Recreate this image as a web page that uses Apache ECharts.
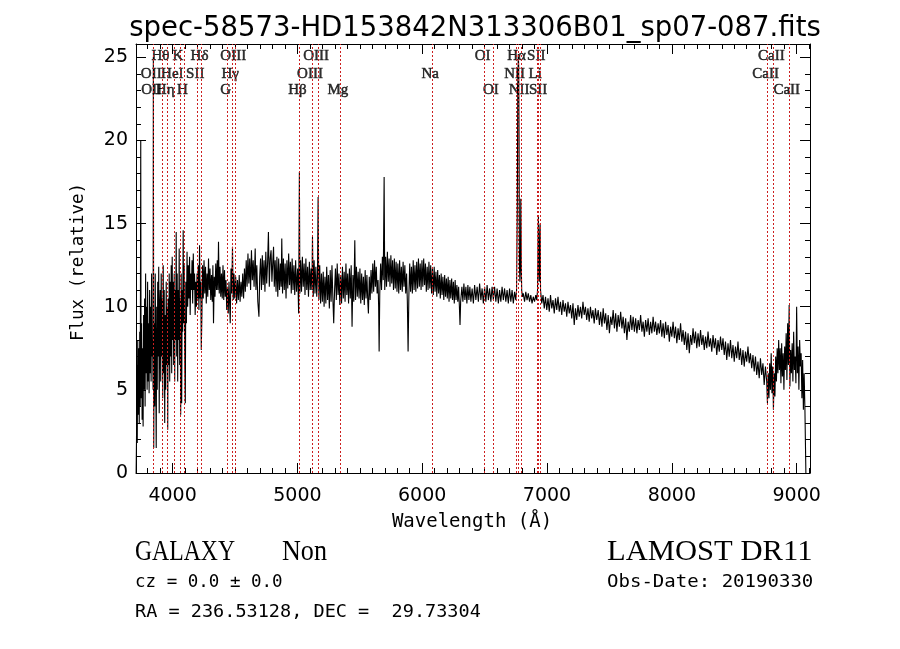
<!DOCTYPE html>
<html><head><meta charset="utf-8">
<script src="https://cdn.jsdelivr.net/npm/echarts@6/dist/echarts.min.js"></script>
<style>html,body{margin:0;padding:0;background:#fff}#c{width:900px;height:649px}</style>
</head><body><div id="c"></div>
<script>
const titleText = 'spec-58573-HD153842N313306B01_sp07-087.fits';
const xLabelText = 'Wavelength (Å)';
const yLabelText = 'Flux (relative)';
const xRange = [3707, 9107];
const yRange = [0, 25.8];
const xTickLabels = [4000, 5000, 6000, 7000, 8000, 9000];
const yTickLabels = [0, 5, 10, 15, 20, 25];

// spectral line markers (observed wavelength, name, label row)
const lineWaves = [3919, 4059, 4232, 4502, 5166, 6500, 6772, 6930, 8814,
                   3845, 4014, 4198, 4478, 5117, 6080, 6756, 6921, 8768,
                   3848, 3957, 4094, 4441, 5016, 5340, 6566, 6792, 6945, 8937];
const lineNames = ['Hθ','K','Hδ','OIII','OIII','OI','Hα','SII','CaII',
                   'OII','HeI','SII','Hγ','OIII','Na','NII','Li','CaII',
                   'OII','Hη','H','G','Hβ','Mg','OI','NII','SII','CaII'];
const lineRows  = [1,1,1,1,1,1,1,1,1,
                   2,2,2,2,2,2,2,2,2,
                   3,3,3,3,3,3,3,3,3,3];

const infoLeft = ['GALAXY', 'Non', 'cz = 0.0 ± 0.0', 'RA = 236.53128, DEC =  29.73304'];
const infoRight = ['LAMOST DR11', 'Obs-Date: 20190330'];

const spectrum = [
[3708,0.0],[3711,2.0],[3714,6.5],[3717,1.8],[3721,8.0],[3725,3.5],[3729,7.5],[3733,3.0],[3737,8.5],[3741,4.0],
[3745,20.0],[3748,4.5],[3752,9.0],[3756,3.2],[3760,7.5],[3764,2.8],[3768,9.5],[3772,5.0],[3776,10.5],[3780,4.0],
[3784,12.0],[3788,6.0],[3792,10.0],[3796,5.0],[3800,11.5],[3804,5.5],[3808,9.0],[3812,4.8],[3816,11.0],[3820,6.0],
[3824,10.0],[3828,5.5],[3832,12.0],[3836,7.0],[3840,8.0],[3844,5.0],[3846,25.0],[3849,1.5],[3853,9.0],[3857,4.0],
[3861,12.0],[3865,6.5],[3869,1.5],[3873,10.0],[3877,5.0],[3881,11.5],[3885,7.0],[3889,12.4],[3893,3.6],[3897,10.0],
[3901,11.0],[3905,5.5],[3909,12.0],[3913,7.0],[3917,10.5],[3921,4.5],[3925,12.5],[3929,6.0],[3933,11.0],[3937,3.0],
[3941,9.5],[3945,5.0],[3949,11.5],[3953,6.5],[3957,10.0],[3961,2.6],[3965,10.5],[3969,6.5],[3973,12.0],[3977,5.5],
[3981,11.5],[3985,7.0],[3989,12.5],[3993,6.0],[3997,13.0],[4001,8.0],[4005,11.5],[4009,6.5],[4013,12.0],[4017,5.5],
[4021,11.0],[4025,8.0],[4029,14.5],[4033,7.0],[4037,12.0],[4041,5.5],[4045,11.0],[4049,8.0],[4053,13.5],[4057,6.5],
[4061,10.5],[4065,3.5],[4069,12.0],[4073,4.2],[4077,11.0],[4081,8.5],[4085,14.6],[4089,9.0],[4093,12.5],[4097,7.5],
[4102,4.2],[4106,11.5],[4111,9.0],[4116,13.3],[4121,10.0],[4126,12.5],[4131,10.5],[4136,13.0],[4141,9.5],[4146,12.0],
[4151,11.0],[4156,12.8],[4161,10.2],[4166,13.2],[4171,11.0],[4176,12.0],[4181,9.5],[4186,11.5],[4191,10.0],[4196,12.0],
[4201,10.5],[4206,12.5],[4211,9.8],[4216,13.7],[4221,10.5],[4226,11.5],[4230,7.4],[4235,9.5],
[4240,12.5],[4246,10.5],[4252,12.8],[4258,10.8],[4264,12.4],[4270,10.2],[4276,12.0],[4282,10.6],[4288,12.9],[4294,11.0],
[4300,12.3],[4306,10.4],[4312,11.9],[4318,10.3],[4323,12.5],[4328,9.0],[4334,11.8],[4340,10.6],[4346,12.6],[4352,11.0],
[4358,12.8],[4363,11.0],[4368,13.9],[4374,10.8],[4380,12.4],[4386,10.6],[4392,12.0],[4398,10.5],[4404,12.5],[4410,10.4],
[4416,12.2],[4422,10.6],[4428,11.6],[4434,9.8],[4440,11.2],[4446,9.6],[4452,11.5],[4458,10.0],[4462,9.0],[4468,12.3],
[4474,10.8],[4480,13.6],[4486,10.4],[4492,12.0],[4498,10.5],
[4506,11.8],[4513,10.2],[4520,11.6],[4527,10.4],[4534,11.9],[4541,10.3],[4548,11.5],[4555,10.6],[4562,12.0],[4569,10.5],
[4576,12.3],[4583,10.9],[4590,12.8],[4597,11.2],[4604,13.2],[4611,11.4],[4618,12.9],[4625,11.0],[4632,13.4],[4639,11.6],
[4646,12.8],[4653,11.2],[4662,13.5],[4668,11.0],[4675,12.5],[4683,10.3],[4692,9.4],[4698,11.8],
[4705,12.9],[4712,11.0],[4719,13.1],[4726,11.3],[4733,12.8],[4740,10.9],[4747,13.3],[4754,11.4],[4761,12.6],[4768,14.5],
[4775,11.2],[4782,12.9],[4789,13.4],[4796,11.5],[4803,12.7],[4809,13.6],[4815,11.2],[4822,12.8],[4829,10.9],[4836,13.0],
[4843,10.6],[4850,12.9],[4857,11.0],[4864,12.6],[4870,11.2],[4875,14.1],[4881,10.8],[4888,12.9],[4895,11.0],[4902,12.6],
[4909,10.5],[4916,12.8],[4923,11.1],[4930,13.2],[4937,11.3],[4944,12.7],[4951,10.8],[4958,12.9],[4965,11.0],[4972,12.5],
[4979,10.7],[4986,12.8],[4993,10.9],[5002,12.3],[5010,9.6],
[5016,18.1],[5020,10.8],[5026,12.8],[5033,10.9],[5040,13.0],[5047,11.2],[5054,12.6],[5061,10.7],[5068,12.9],[5075,11.0],
[5082,12.4],[5089,10.6],[5096,12.7],[5103,11.0],[5110,12.3],[5116,11.0],[5121,14.2],[5127,10.6],[5134,12.8],[5141,10.8],
[5148,12.4],[5155,10.6],[5161,11.8],[5166,16.6],[5172,10.4],[5179,12.5],[5186,10.2],[5193,12.0],
[5200,10.3],[5207,12.1],[5214,10.0],[5221,11.8],[5228,10.2],[5235,12.4],[5242,10.4],[5249,11.9],[5256,9.9],[5263,12.2],
[5270,10.3],[5277,12.5],[5284,10.6],[5291,9.0],[5298,11.0],[5305,12.3],[5312,10.4],[5319,12.6],[5326,10.7],[5333,12.0],
[5340,10.1],[5347,11.9],[5354,10.2],[5361,12.4],[5368,10.5],[5375,12.1],[5382,10.3],[5389,12.6],[5396,10.7],[5403,12.0],
[5410,10.2],[5417,12.3],[5424,10.5],[5431,12.5],[5438,8.8],[5445,11.9],[5452,10.3],[5460,14.0],[5466,10.4],[5473,12.4],
[5480,10.6],[5487,12.1],[5494,10.5],[5501,12.3],[5508,10.2],[5515,12.0],[5522,10.4],[5529,11.8],[5536,10.1],[5543,12.2],
[5550,10.5],[5557,11.9],[5564,10.3],[5569,9.6],[5576,11.8],[5583,10.4],[5590,12.2],[5597,10.8],
[5604,12.6],[5611,10.9],[5618,12.8],[5625,11.2],[5632,12.4],[5639,10.8],[5646,11.6],[5651,10.0],[5655,7.3],[5660,10.8],
[5667,12.6],[5674,11.0],[5681,13.0],[5688,11.6],[5695,17.8],[5700,11.0],[5707,13.0],[5714,11.2],[5721,13.3],[5728,11.5],
[5735,12.9],[5742,11.2],[5749,13.1],[5756,11.4],[5763,12.8],[5770,11.0],[5777,12.9],[5784,11.1],[5791,12.7],[5798,10.9],
[5805,12.6],[5812,10.8],[5819,12.8],[5826,11.0],[5833,12.4],[5840,10.9],[5847,12.7],[5854,11.2],[5861,12.5],[5868,10.8],
[5875,12.0],[5881,10.3],[5887,7.3],[5893,10.6],[5900,12.6],[5907,10.9],[5914,12.4],[5921,10.8],[5928,12.8],[5935,11.0],
[5942,12.5],[5949,10.9],[5956,12.7],[5963,11.1],[5970,12.9],[5977,11.2],[5984,12.6],[5991,11.0],[5998,12.8],
[6005,11.2],[6012,12.9],[6019,11.3],[6026,12.6],[6033,10.9],[6040,12.4],[6047,11.0],[6054,12.7],[6061,11.1],[6068,12.5],
[6075,10.8],[6082,12.3],[6089,10.7],[6096,12.4],[6103,10.9],[6110,12.1],[6117,10.6],[6124,12.2],[6131,10.8],[6138,11.9],
[6145,10.5],[6152,12.0],[6159,10.7],[6166,11.8],[6173,10.4],[6180,11.9],[6187,10.6],[6194,11.7],[6201,10.5],[6208,11.8],
[6215,10.3],[6222,11.6],[6229,10.5],[6236,11.7],[6243,10.4],[6250,11.5],[6257,10.2],[6264,11.6],[6271,10.4],[6278,11.3],
[6285,10.3],[6292,11.2],[6298,10.0],[6303,8.9],[6308,10.3],
[6318,11.2],[6326,10.3],[6334,11.4],[6342,10.4],[6350,11.2],[6358,10.2],
[6366,11.3],[6374,10.4],[6382,11.2],[6390,10.3],[6400,11.1],[6410,10.2],[6420,11.3],[6430,10.4],[6440,11.2],[6450,10.3],
[6460,11.4],[6470,10.4],[6480,11.1],[6490,10.2],[6500,11.2],[6510,10.3],[6520,11.3],[6530,10.4],[6540,11.1],[6550,10.3],
[6560,11.2],[6570,10.4],[6580,11.2],[6590,10.3],[6600,11.1],[6610,10.2],[6620,11.0],[6630,10.3],[6640,11.2],[6650,10.4],
[6660,11.1],[6670,10.3],[6680,11.0],[6690,10.2],[6700,11.1],[6710,10.3],[6720,11.0],[6730,10.2],[6740,10.9],[6750,10.4],
[6756,11.0],[6762,16.0],[6766,23.5],[6770,25.2],[6773,24.5],[6776,20.0],[6779,12.5],[6783,11.5],[6787,12.5],[6790,16.5],
[6793,13.0],[6797,11.0],[6803,10.6],[6810,10.8],[6820,10.3],[6830,10.9],[6840,10.4],[6850,10.8],[6860,10.3],[6870,10.7],
[6880,10.2],[6890,10.6],[6900,10.3],[6910,10.7],[6918,10.4],[6924,11.0],[6928,14.0],[6931,15.5],[6934,12.0],[6938,11.5],
[6942,14.5],[6945,15.0],[6948,11.0],[6958,10.2],[6968,10.7],[6978,9.9],[6988,10.6],[6998,9.8],[7008,10.5],[7018,9.7],
[7028,10.7],[7038,9.9],[7048,10.4],[7058,9.6],[7068,10.5],[7078,9.8],[7088,10.6],[7098,9.7],[7108,10.3],[7118,9.5],
[7128,10.4],[7138,9.7],[7148,10.2],[7158,9.4],[7168,10.3],[7178,9.6],[7188,10.1],[7198,9.3],[7208,10.2],[7218,8.9],
[7228,9.9],[7238,9.2],[7248,10.1],[7258,9.4],[7268,10.0],[7278,9.3],[7288,10.3],[7298,9.5],[7308,10.0],[7318,9.2],
[7328,9.9],[7338,9.1],[7348,10.0],[7358,9.3],[7368,9.8],[7378,9.0],[7388,9.9],[7398,9.2],[7410,9.8],[7420,8.9],
[7430,9.7],[7440,8.8],[7450,9.9],[7460,9.0],[7470,9.6],[7480,8.6],[7490,9.5],[7500,8.4],[7510,9.4],[7520,8.9],
[7530,9.8],[7540,8.7],[7550,9.6],[7560,8.5],[7570,9.5],[7580,8.8],[7590,9.7],[7600,8.7],[7610,9.4],[7620,8.4],
[7630,9.3],[7640,8.0],[7650,9.1],[7660,8.5],[7670,9.5],[7680,8.6],[7690,9.4],[7700,8.5],[7710,9.3],[7720,8.4],
[7730,9.2],[7740,8.6],[7750,9.5],[7760,8.5],[7770,9.1],[7780,8.2],[7790,9.2],[7800,8.5],[7810,9.3],[7820,8.3],
[7830,9.1],[7840,8.4],[7850,9.4],[7860,8.5],[7870,9.1],[7880,8.3],[7890,9.0],[7900,8.4],[7910,9.2],[7920,8.2],
[7930,9.0],[7940,8.1],[7950,9.1],[7960,8.3],[7970,8.9],[7980,7.9],[7990,8.8],[8000,8.2],[8010,9.1],[8020,8.1],
[8030,8.8],[8040,7.8],[8050,8.7],[8060,8.0],[8070,9.0],[8080,7.9],[8090,8.6],[8100,7.7],[8110,8.5],[8120,7.4],
[8130,8.4],[8140,7.2],[8150,8.3],[8160,7.7],[8170,8.7],[8180,7.8],[8190,8.5],[8200,7.5],[8210,8.4],[8220,7.6],
[8230,8.6],[8240,7.7],[8250,8.3],[8260,7.4],[8270,8.2],[8280,7.5],[8290,8.5],[8300,7.6],[8310,8.1],[8320,7.3],
[8330,8.3],[8340,7.5],[8350,8.1],[8360,7.1],[8370,8.0],[8380,7.3],[8390,8.2],[8400,7.4],[8410,8.1],[8420,7.1],
[8430,7.9],[8440,6.8],[8450,7.8],[8460,7.0],[8470,8.0],[8480,6.9],[8490,7.7],[8500,6.7],[8510,7.6],[8520,6.9],
[8530,7.9],[8540,6.8],[8550,7.5],[8560,6.5],[8570,7.4],[8580,6.4],[8590,7.3],[8600,6.7],[8610,7.6],[8620,6.6],
[8630,7.2],[8640,6.3],[8650,7.1],[8660,6.1],[8670,7.0],[8680,5.9],[8690,6.7],[8700,5.7],[8710,6.9],[8720,5.9],
[8730,6.6],[8740,5.3],[8750,6.4],[8760,5.5],[8766,4.2],[8772,6.0],[8778,4.5],[8784,6.6],[8790,5.0],[8796,7.2],
[8802,4.8],[8808,6.4],[8814,3.8],[8820,6.0],[8826,4.6],[8832,7.0],[8838,5.5],[8844,7.5],[8850,6.0],[8856,8.0],
[8862,6.2],[8868,7.5],[8874,5.4],[8880,7.8],[8886,5.8],[8892,7.2],[8898,5.0],[8904,7.6],[8910,6.2],[8916,8.4],
[8922,5.6],[8928,9.0],[8934,6.5],[8940,10.1],[8946,5.2],[8952,7.4],[8958,6.0],[8964,7.8],[8970,5.5],[8976,8.5],
[8982,6.2],[8988,7.0],[8994,5.4],[9000,10.0],[9006,6.0],[9012,7.6],[9018,5.0],[9024,8.0],[9030,6.4],[9036,7.2],
[9042,4.5],[9048,6.8],[9054,3.8],[9060,6.0],[9066,4.0],[9070,2.0],[9074,0.0]
];

// ---------- layout ----------
const rowY = {1: 25.05, 2: 24.02, 3: 23.0};
const xMinorTicks = [];
for (let v = 3800; v <= 9100; v += 100) if (v % 1000 !== 0) xMinorTicks.push(v);
const yMinorTicks = [];
for (let v = 1; v <= 25; v++) if (v % 5 !== 0) yMinorTicks.push(v);

const black = '#000';
function axisDef(kind, position, ticks, len, showLine, label) {
  const range = kind === 'x' ? xRange : yRange;
  return {
    type: 'value', position: position, min: range[0], max: range[1],
    axisLine: {show: showLine, onZero: false, lineStyle: {color: black, width: 1}},
    axisTick: {show: true, inside: true, length: len, customValues: ticks, lineStyle: {color: black, width: 1}},
    axisLabel: label || {show: false},
    splitLine: {show: false},
    minorTick: {show: false}
  };
}
const tickFont = {fontFamily: 'DejaVu Sans', fontSize: 19, color: black, formatter: v => String(v)};

const chart = echarts.init(document.getElementById('c'), null, {renderer: 'canvas'});
chart.setOption({
  animation: false,
  backgroundColor: '#fff',
  title: {
    text: titleText, left: 470, top: 24, textAlign: 'center', textVerticalAlign: 'middle',
    textStyle: {fontFamily: 'DejaVu Sans', fontSize: 27.5, fontWeight: 'normal', color: black}
  },
  grid: {left: 136, right: 90, top: 44, bottom: 176, containLabel: false, outerBoundsMode: 'none'},
  xAxis: [
    axisDef('x', 'bottom', xTickLabels, 10, true,
      Object.assign({show: true, customValues: xTickLabels, margin: 14}, tickFont)),
    axisDef('x', 'bottom', xMinorTicks, 5, false),
    axisDef('x', 'top', xTickLabels, 10, true),
    axisDef('x', 'top', xMinorTicks, 5, false)
  ],
  yAxis: [
    axisDef('y', 'left', yTickLabels, 10, true,
      Object.assign({show: true, customValues: yTickLabels, margin: 8}, tickFont)),
    axisDef('y', 'left', yMinorTicks, 5, false),
    axisDef('y', 'right', yTickLabels, 10, true),
    axisDef('y', 'right', yMinorTicks, 5, false)
  ],
  graphic: [
    {type: 'text', x: 472, y: 522, style: {text: xLabelText, font: '19px "DejaVu Sans Mono"', fill: black, textAlign: 'center', align: 'center', textVerticalAlign: 'middle', verticalAlign: 'middle'}},
    {type: 'text', x: 78, y: 262, rotation: Math.PI / 2, style: {text: yLabelText, font: '17.5px "DejaVu Sans Mono"', fill: black, textAlign: 'center', align: 'center', textVerticalAlign: 'middle', verticalAlign: 'middle'}},
    {type: 'text', x: 135, y: 552, scaleX: 0.79, style: {text: infoLeft[0], font: '30px "Liberation Serif"', fill: black, textAlign: 'left', align: 'left', textVerticalAlign: 'middle', verticalAlign: 'middle'}},
    {type: 'text', x: 282, y: 552, scaleX: 0.87, style: {text: infoLeft[1], font: '30px "Liberation Serif"', fill: black, textAlign: 'left', align: 'left', textVerticalAlign: 'middle', verticalAlign: 'middle'}},
    {type: 'text', x: 607, y: 552, scaleX: 1.02, style: {text: infoRight[0], font: '30px "Liberation Serif"', fill: black, textAlign: 'left', align: 'left', textVerticalAlign: 'middle', verticalAlign: 'middle'}},
    {type: 'text', x: 135, y: 583, scaleX: 1.03, style: {text: infoLeft[2], font: '17px "DejaVu Sans Mono"', fill: black, textAlign: 'left', align: 'left', textVerticalAlign: 'middle', verticalAlign: 'middle'}},
    {type: 'text', x: 607, y: 583, scaleX: 1.12, style: {text: infoRight[1], font: '17px "DejaVu Sans Mono"', fill: black, textAlign: 'left', align: 'left', textVerticalAlign: 'middle', verticalAlign: 'middle'}},
    {type: 'text', x: 135, y: 613, scaleX: 1.09, style: {text: infoLeft[3], font: '17px "DejaVu Sans Mono"', fill: black, textAlign: 'left', align: 'left', textVerticalAlign: 'middle', verticalAlign: 'middle'}}
  ],
  series: [
    {
      type: 'line', data: [], xAxisIndex: 0, yAxisIndex: 0, z: 1, silent: true,
      markLine: {
        silent: true, symbol: ['none', 'none'], animation: false,
        label: {show: false},
        lineStyle: {color: '#cc1f1f', width: 1, type: [2, 2]},
        emphasis: {disabled: true},
        data: lineWaves.map(w => ({xAxis: w}))
      }
    },
    {
      type: 'line', data: spectrum, xAxisIndex: 0, yAxisIndex: 0, z: 3,
      symbol: 'none', showSymbol: false, clip: true, silent: true,
      lineStyle: {color: black, width: 1.1}
    },
    {
      type: 'scatter', xAxisIndex: 0, yAxisIndex: 0, z: 4, silent: true,
      symbolSize: 1, itemStyle: {color: 'rgba(0,0,0,0)'},
      data: lineWaves.map((w, i) => ({value: [w, rowY[lineRows[i]]], name: lineNames[i]})),
      label: {show: true, position: 'inside', formatter: '{b}', offset: [-2, 0],
        fontFamily: 'Liberation Serif', fontSize: 15, color: black,
        textBorderColor: black, textBorderWidth: 0.5}
    }
  ]
});
</script>
</body></html>
